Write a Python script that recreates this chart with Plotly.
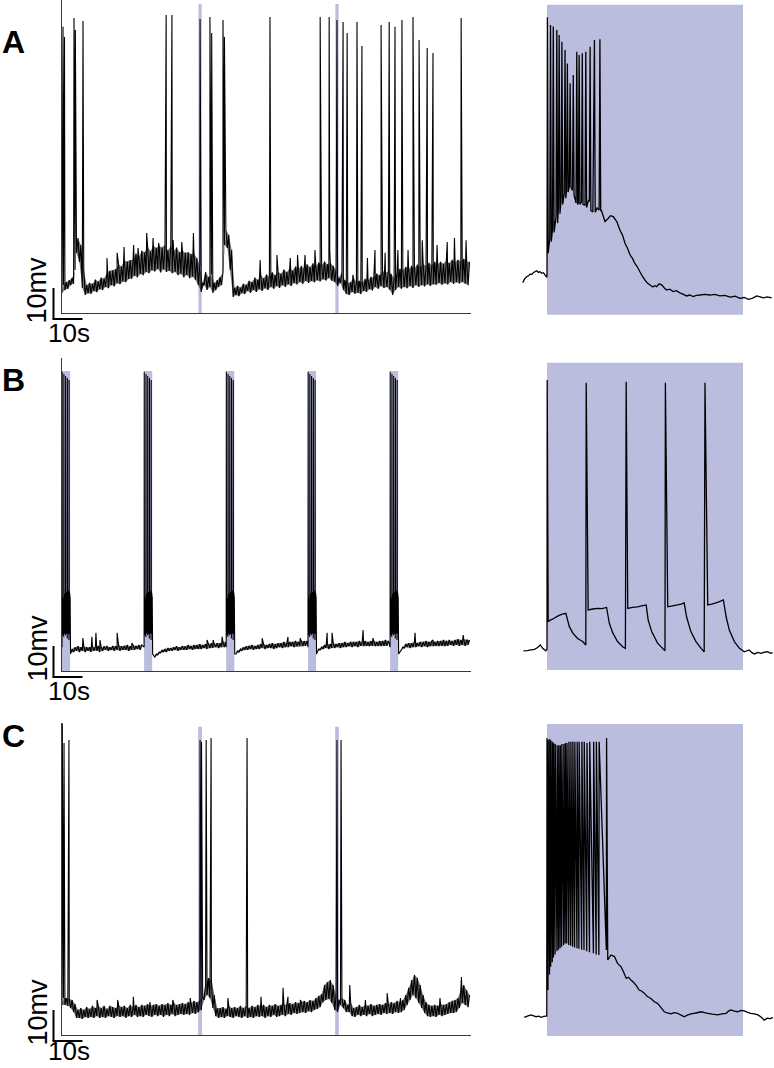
import numpy as np
import plotly.graph_objects as go

W, H = 774, 1068

# ------------------------------------------------------------------
# DATA (time in s, membrane potential in mV)
# ------------------------------------------------------------------
# Panel A, long recording: lower / upper edge of the noisy trace, one sample per second (t = 0..140 s)
A_lo = [-63.5, -62.6, -62.2, -61.0, -60.6, -50.6, -53.5, -61.9, -64.2, -63.6,
        -63.8, -62.9, -63.3, -62.3, -62.6, -61.6, -62.0, -61.0, -61.4, -60.4,
        -60.7, -59.8, -60.1, -59.0, -58.9, -58.0, -58.5, -57.4, -57.8, -56.8,
        -57.2, -56.2, -56.6, -55.8, -56.9, -55.9, -56.8, -56.4, -57.2, -56.8,
        -57.8, -57.3, -58.5, -57.7, -58.8, -58.3, -59.3, -61.0, -63.2, -61.0,
        -62.6, -61.6, -63.5, -62.6, -61.6, -61.0, -48.1, -49.0, -56.1, -64.8,
        -64.2, -64.6, -63.6, -63.9, -62.9, -63.5, -62.6, -63.2, -62.3, -62.9,
        -62.0, -62.6, -61.6, -62.2, -61.3, -61.9, -61.0, -61.6, -60.7, -61.3,
        -60.3, -60.8, -60.0, -60.6, -59.7, -60.3, -59.7, -60.1, -59.4, -59.8,
        -59.1, -59.5, -58.7, -59.6, -60.0, -61.3, -60.3, -62.6, -63.9, -64.2,
        -63.2, -63.8, -63.5, -63.9, -62.9, -63.2, -62.3, -62.7, -61.6, -62.2,
        -61.3, -61.9, -61.6, -62.6, -64.2, -62.6, -61.6, -62.2, -61.6, -62.0,
        -61.3, -61.9, -61.0, -61.6, -61.0, -61.4, -60.7, -61.3, -60.7, -60.9,
        -60.3, -60.9, -60.4, -60.8, -60.0, -60.6, -60.1, -60.5, -60.0, -60.6,
        -61.0]
A_hi = [-61.0, -60.0, -59.4, -58.7, -56.1, -45.8, -48.1, -56.1, -61.0, -60.3,
        -60.6, -59.2, -59.8, -58.6, -58.9, -57.0, -56.4, -56.2, -55.9, -54.3,
        -55.0, -53.1, -53.4, -52.9, -52.8, -50.8, -52.0, -49.9, -50.4, -48.5,
        -50.1, -48.2, -49.0, -48.4, -48.9, -47.9, -49.8, -48.3, -50.1, -48.9,
        -50.4, -49.8, -50.6, -50.4, -51.0, -50.8, -52.3, -54.5, -60.3, -56.8,
        -58.4, -57.7, -60.3, -59.4, -58.4, -56.8, -43.2, -44.8, -49.7, -61.9,
        -61.2, -61.8, -60.6, -60.9, -59.6, -60.0, -58.6, -59.3, -57.7, -58.8,
        -57.6, -58.2, -56.9, -57.8, -56.7, -57.3, -56.0, -56.8, -55.6, -56.3,
        -55.0, -55.9, -54.8, -55.6, -54.3, -55.2, -54.0, -54.9, -53.7, -54.6,
        -53.4, -54.3, -53.8, -54.8, -56.1, -58.7, -56.8, -59.4, -60.3, -60.0,
        -58.7, -60.1, -59.6, -60.2, -59.0, -59.4, -58.3, -58.6, -57.3, -57.8,
        -56.4, -57.0, -56.5, -57.4, -58.7, -57.1, -55.7, -56.2, -55.1, -55.9,
        -54.8, -55.6, -54.4, -55.2, -54.1, -54.9, -53.8, -54.6, -53.5, -54.3,
        -53.5, -54.1, -53.1, -53.9, -52.8, -53.6, -52.8, -53.3, -52.5, -53.4,
        -53.5]
A_spike_t = [0.35, 0.86, 4.14, 4.6, 7.24, 35.9, 37.9, 47.6, 51.0, 51.6, 55.5, 56.0,
             71.7, 89.0, 92.1, 94.8, 96.9, 98.3, 101.7, 103.4, 110.0, 112.8, 114.8,
             117.2, 121.0, 123.1, 125.9, 127.9, 137.6]
A_spike_v = [22.3, 19.0, 25.2, 21.3, 24.2, 26.1, 26.1, 24.8, 25.5, 20.3, 24.5, 19.0,
             25.5, 25.5, 25.5, 24.5, 23.9, 20.3, 23.9, 16.1, 22.9, 23.9, 22.3,
             24.5, 25.5, 18.1, 15.5, 13.9, 25.2]
A_epsp_t = [15.5, 19.0, 21.4, 24.7, 26.2, 29.2, 31.4, 33.3, 38.3, 41.3, 45.3,
            68.3, 74.1, 78.7, 81.2, 83.8, 87.2, 92.3, 100.3, 105.3, 107.9, 111.4,
            115.8, 119.3, 124.2, 129.3, 132.8, 135.3, 139.3]
A_epsp_v = [-52.3, -50.6, -48.7, -48.1, -49.0, -44.2, -45.8, -47.4, -46.5, -47.1, -44.2,
            -52.9, -51.3, -52.3, -51.3, -51.3, -49.7, -49.7, -57.7, -52.3, -49.7, -50.6,
            -49.7, -49.7, -46.5, -48.1, -47.1, -45.8, -46.5]
A_stim_t = [47.6, 94.8]          # brief light pulses (centre, s)

# Panel A, expanded view around one light period (stimulus 0..5 s)
A_right = [(-0.62, -60.2), (-0.57, -59.0), (-0.52, -58.3), (-0.47, -58.0), (-0.43, -57.4),
           (-0.39, -57.6), (-0.35, -57.0), (-0.30, -56.6), (-0.26, -56.4), (-0.22, -56.9),
           (-0.18, -56.7), (-0.13, -57.2), (-0.09, -57.0), (-0.03, -58.1),
           (0.00, -58.5), (0.01, 25.4), (0.03, -50.7), (0.07, -46.0), (0.09, 22.9), (0.11, -47.0),
           (0.14, -43.0), (0.16, 22.4), (0.18, -44.0), (0.23, -39.0), (0.25, 21.3), (0.27, -41.0),
           (0.29, -36.0), (0.31, 19.7), (0.33, -38.0), (0.36, -33.5), (0.38, 17.5), (0.40, -35.0),
           (0.44, -31.5), (0.46, 14.8), (0.48, -33.0), (0.50, -30.5), (0.52, 10.5), (0.54, -31.0),
           (0.57, -29.0), (0.59, 4.1), (0.61, -29.5), (0.65, -30.5), (0.67, 6.8), (0.69, -32.0),
           (0.74, -34.5), (0.76, 14.3), (0.78, -35.0), (0.80, -34.5), (0.82, 13.2), (0.84, -35.0),
           (0.88, -34.2), (0.90, 13.8), (0.92, -35.0), (0.97, -35.2), (0.99, 14.3), (1.01, -36.0),
           (1.06, -33.5), (1.08, -34.0), (1.10, 15.9), (1.12, -37.0), (1.17, -37.4), (1.21, 18.1),
           (1.23, -37.5), (1.28, -36.1), (1.33, -36.8), (1.35, 18.3), (1.37, -37.0),
           (1.39, -37.0), (1.48, -40.5), (1.56, -39.5), (1.62, -38.6), (1.69, -38.9), (1.78, -40.5),
           (1.86, -43.2), (1.93, -45.0), (1.99, -47.5), (2.05, -49.0), (2.12, -51.3), (2.18, -52.4),
           (2.24, -54.0), (2.30, -55.0), (2.37, -56.7), (2.43, -58.0), (2.50, -59.4), (2.56, -60.3),
           (2.63, -61.0), (2.70, -61.6), (2.75, -61.2), (2.80, -61.5), (2.86, -60.6), (2.93, -61.0),
           (3.00, -62.0), (3.05, -62.6), (3.13, -62.3), (3.22, -63.1), (3.30, -62.8), (3.39, -63.5),
           (3.47, -63.9), (3.56, -64.5), (3.64, -64.2), (3.73, -64.7), (3.81, -64.3), (3.90, -64.2),
           (4.03, -64.0), (4.16, -64.2), (4.28, -64.0), (4.41, -64.5), (4.54, -64.3), (4.67, -64.9),
           (4.80, -64.6), (4.92, -65.3), (5.03, -65.0), (5.14, -65.6), (5.25, -65.2), (5.35, -64.5),
           (5.44, -64.8), (5.52, -65.1), (5.62, -64.8), (5.73, -65.1)]

# Panel B, long recording (None = inside a burst)
N = None
B_lo = [N, N, N, -64.2, -63.9, -63.5, -63.9, -63.5, -63.9, -63.5,
        -63.9, -63.5, -63.5, -63.9, -63.5, -63.2, -63.5, -63.2, -63.5, -63.2,
        -63.5, -63.2, -63.2, -63.5, -63.2, -63.2, -62.9, -63.2, N, N,
        N, N, -65.5, -64.8, -64.2, -63.9, -63.9, -63.5, -63.5, -63.2,
        -63.5, -63.2, -63.2, -63.2, -62.9, -63.2, -62.9, -62.9, -62.9, -62.6,
        -62.9, -62.6, -62.6, -62.3, -62.6, -62.3, -62.3, N, N, N,
        -64.5, -63.9, -63.5, -63.2, -63.2, -62.9, -63.2, -62.9, -62.9, -62.6,
        -62.9, -62.6, -62.6, -62.9, -62.6, -62.3, -62.6, -62.3, -62.3, -62.0,
        -62.3, -62.0, -61.9, -62.0, -61.9, N, N, N, -63.9, -63.2,
        -62.9, -62.6, -62.9, -62.6, -62.6, -62.3, -62.6, -62.3, -62.3, -62.0,
        -62.3, -62.0, -62.3, -61.9, -62.0, -61.9, -62.0, -61.9, -62.0, -61.9,
        -62.0, -61.9, -61.9, N, N, N, N, -63.2, -62.6, -62.3,
        -62.6, -62.3, -62.3, -62.0, -62.3, -62.0, -62.3, -62.0, -62.0, -61.9,
        -62.0, -61.9, -62.0, -61.9, -61.6, -61.9, -61.6, -61.9, -61.6, -61.9,
        -61.6]
B_hi = [N, N, N, -62.9, -62.3, -62.0, -62.3, -62.0, -62.3, -62.3,
        -62.0, -62.3, -61.9, -62.3, -62.0, -61.9, -62.3, -61.9, -62.0, -61.6,
        -62.0, -61.9, -61.6, -62.0, -61.6, -61.9, -61.6, -61.6, N, N,
        N, N, -64.5, -63.9, -63.2, -62.9, -62.6, -62.6, -62.3, -62.0,
        -62.3, -61.9, -62.0, -61.6, -61.9, -61.6, -61.6, -61.3, -61.6, -61.3,
        -61.3, -61.0, -61.3, -61.0, -61.0, -60.6, -60.6, N, N, N,
        -63.5, -62.9, -62.3, -62.0, -61.9, -61.6, -61.9, -61.6, -61.3, -61.3,
        -61.6, -61.3, -61.0, -61.3, -61.0, -61.0, -60.6, -61.0, -60.6, -60.6,
        -60.3, -60.6, -60.3, -60.3, -60.3, N, N, N, -62.9, -62.3,
        -61.6, -61.3, -61.3, -61.0, -61.3, -61.0, -61.0, -60.6, -61.0, -60.6,
        -60.6, -60.6, -60.3, -60.6, -60.3, -60.6, -60.3, -60.3, -60.6, -60.3,
        -60.3, -60.0, -60.3, N, N, N, N, -62.3, -61.3, -61.0,
        -61.0, -60.6, -61.0, -60.6, -60.6, -60.3, -60.6, -60.3, -60.6, -60.3,
        -60.3, -60.0, -60.3, -60.0, -60.3, -60.0, -59.7, -60.0, -59.7, -60.0,
        -60.0]
B_epsp_t = [7.2, 10.3, 11.7, 13.1, 19.0, 24.1, 50.0, 52.1, 55.2, 69.0, 77.9, 82.1,
            91.4, 93.1, 103.8, 107.2, 121.7, 127.9, 138.3, 139.8]
B_epsp_v = [-59.4, -59.0, -57.7, -60.0, -57.7, -61.0, -60.0, -60.0, -59.0, -59.4, -59.0, -59.4,
            -57.7, -57.7, -56.8, -59.4, -57.7, -60.0, -58.4, -60.0]
B_burst_start = [0.0, 28.3, 56.6, 84.8, 113.1]
B_burst_len = 2.8
# shape of one burst (time from burst onset, mV): tall spikes plus the dense
# depolarised oscillation between -45 and -60 mV
B_burst_off = [0.00, 0.05, 0.10, 0.16, 0.22, 0.28, 0.34, 0.40, 0.46, 0.52, 0.60, 0.65,
               0.70, 0.76, 0.82, 0.88, 0.94, 1.00, 1.06, 1.12, 1.20, 1.25, 1.30, 1.36,
               1.42, 1.48, 1.54, 1.60, 1.66, 1.72, 1.80, 1.85, 1.90, 1.96, 2.02, 2.08,
               2.14, 2.20, 2.26, 2.32, 2.40, 2.45, 2.50, 2.56, 2.62, 2.68, 2.74, 2.80, 2.95]
B_burst_v = [-62.3, 26.5, -58.0, -46.0, -57.0, -47.5, -58.5, -46.5, -57.5, -48.0, -59.0, 25.8,
             -57.0, -45.5, -56.5, -46.5, -58.0, -45.0, -57.5, -47.0, -58.5, 25.2, -56.0, -45.0,
             -57.0, -46.0, -58.0, -44.5, -57.5, -46.5, -59.5, 24.5, -56.5, -44.5, -57.0, -45.5,
             -58.0, -44.0, -57.5, -46.0, -60.0, 23.9, -56.0, -44.5, -57.5, -45.0, -58.0, -46.0,
             -64.5]

# Panel B, expanded view (stimulus 0..5 s)
B_right = [(-0.60, -63.5), (-0.50, -63.4), (-0.41, -63.2), (-0.32, -63.0), (-0.24, -62.4),
           (-0.17, -61.6), (-0.11, -62.7), (-0.03, -63.5),
           (0.00, -63.0), (0.005, 23.9), (0.03, -54.0), (0.10, -53.5), (0.18, -53.0), (0.26, -52.4),
           (0.34, -51.9), (0.42, -51.6), (0.48, -51.4), (0.57, -55.7), (0.66, -57.8), (0.78, -59.5),
           (0.91, -60.5), (0.99, -61.6),
           (1.00, 23.0), (1.05, -50.3), (1.17, -50.0), (1.29, -49.8), (1.40, -49.9), (1.52, -49.5),
           (1.59, -54.6), (1.68, -57.8), (1.80, -60.5), (1.93, -62.2), (2.00, -62.7),
           (2.02, 23.3), (2.06, -49.8), (2.18, -49.5), (2.31, -49.3), (2.42, -49.0), (2.53, -48.7),
           (2.58, -53.5), (2.67, -57.3), (2.82, -61.0), (2.95, -62.7), (3.01, -63.5),
           (3.02, 23.0), (3.08, -49.3), (3.20, -49.0), (3.33, -48.7), (3.42, -48.4), (3.50, -48.0),
           (3.56, -52.5), (3.67, -57.3), (3.80, -60.5), (3.93, -62.7), (4.01, -63.8),
           (4.03, 23.0), (4.10, -48.7), (4.20, -48.4), (4.31, -48.0), (4.40, -47.6), (4.50, -47.1),
           (4.57, -52.5), (4.65, -56.8), (4.78, -60.5), (4.91, -62.7), (5.03, -63.8),
           (5.16, -63.2), (5.22, -64.0), (5.29, -64.5), (5.38, -64.0), (5.46, -64.3), (5.55, -63.9),
           (5.63, -63.8), (5.70, -64.3), (5.76, -64.1)]

# Panel C, long recording
C_lo = [-60.3, -60.3, -60.6, -61.3, -62.6, -64.5, -64.5, -64.8, -64.2, -64.5,
        -64.2, -64.5, -63.9, -64.5, -64.2, -64.5, -63.9, -64.2, -64.5, -63.9,
        -64.2, -63.9, -64.5, -63.9, -64.2, -63.5, -64.2, -63.9, -64.2, -63.5,
        -63.9, -64.2, -63.5, -63.9, -63.5, -64.2, -63.5, -63.9, -63.2, -63.9,
        -63.5, -63.2, -63.5, -63.2, -63.5, -62.9, -63.2, -62.6, -61.9, -58.7,
        -57.1, -58.1, -61.3, -63.9, -64.5, -64.2, -64.5, -63.9, -64.2, -64.5,
        -63.9, -64.2, -64.5, -63.9, -64.5, -64.2, -64.5, -63.9, -64.2, -63.9,
        -64.5, -63.9, -64.2, -63.5, -64.2, -63.9, -63.5, -63.9, -63.2, -63.5,
        -62.9, -63.2, -62.9, -62.6, -62.9, -62.3, -62.6, -61.9, -61.6, -61.0,
        -59.4, -58.7, -58.4, -59.7, -61.9, -62.6, -60.3, -61.3, -62.6, -62.6,
        -63.9, -64.2, -63.5, -63.9, -63.5, -63.9, -63.2, -63.9, -63.5, -63.2,
        -63.5, -62.9, -63.2, -62.9, -63.2, -62.6, -62.9, -62.6, -61.9, -60.3,
        -58.7, -57.1, -58.1, -59.7, -61.3, -62.9, -63.9, -64.2, -63.9, -64.2,
        -63.5, -63.9, -63.5, -63.2, -62.9, -62.9, -62.6, -61.3, -59.7, -60.3,
        -61.0]
C_hi = [-58.1, -58.1, -58.4, -58.7, -60.0, -61.9, -61.3, -61.9, -61.0, -61.6,
        -60.6, -61.3, -60.6, -61.3, -60.6, -61.6, -60.6, -61.0, -61.3, -60.3,
        -61.0, -60.6, -61.3, -60.3, -61.0, -60.3, -61.0, -60.3, -60.6, -60.0,
        -60.6, -60.3, -60.0, -60.6, -60.0, -60.3, -59.7, -60.3, -59.7, -60.3,
        -60.0, -59.7, -60.0, -59.4, -59.7, -59.0, -59.4, -58.7, -58.1, -53.9,
        -51.6, -52.3, -57.1, -61.3, -61.3, -61.0, -61.6, -60.6, -61.3, -61.0,
        -61.3, -60.6, -61.3, -60.6, -61.3, -60.6, -61.0, -60.3, -60.6, -60.3,
        -61.0, -60.3, -60.6, -60.0, -60.6, -60.3, -60.0, -60.3, -59.7, -60.0,
        -59.4, -59.7, -59.4, -59.0, -59.4, -58.7, -59.0, -58.1, -57.4, -56.8,
        -53.9, -52.9, -52.3, -53.9, -57.1, -58.7, -58.1, -58.7, -60.3, -59.4,
        -61.3, -61.0, -60.3, -61.0, -60.3, -60.6, -60.0, -60.6, -60.3, -60.0,
        -60.3, -59.7, -60.0, -59.4, -59.7, -59.0, -59.4, -58.7, -57.1, -54.8,
        -52.3, -50.6, -51.6, -53.9, -57.1, -59.4, -60.3, -60.6, -60.3, -60.6,
        -60.0, -60.3, -60.0, -59.4, -59.0, -58.7, -58.1, -55.5, -53.9, -55.5,
        -57.1]
C_spike_t = [0.1, 0.7, 2.4, 47.6, 48.1, 49.7, 51.4, 63.8, 94.8, 96.2]
C_spike_v = [30.6, 24.2, 25.2, 25.2, 24.5, 25.2, 25.8, 25.8, 25.2, 25.2]
C_epsp_t = [12.1, 19.2, 24.6, 30.3, 38.2, 44.2, 57.2, 68.6, 76.2, 77.9, 82.2, 99.2,
            104.6, 112.1, 116.7, 130.3, 137.7]
C_epsp_v = [-58.7, -58.7, -57.7, -59.4, -58.7, -58.1, -58.1, -57.7, -54.8, -57.7, -58.7, -53.9,
            -58.7, -56.5, -58.1, -58.1, -51.3]
C_stim_t = [47.6, 94.8]

# Panel C, expanded view (stimulus 0..5 s)
C_right_pre = [(-0.58, -64.3), (-0.50, -63.9), (-0.41, -63.5), (-0.34, -63.8), (-0.28, -64.1),
               (-0.21, -63.9), (-0.15, -64.3), (-0.08, -64.0), (-0.03, -63.9)]
C_spike_rt = [0.00, 0.03, 0.07, 0.10, 0.14, 0.17, 0.21, 0.26, 0.30, 0.34, 0.38, 0.43, 0.47, 0.51,
              0.56, 0.61, 0.66, 0.71, 0.77, 0.82, 0.89, 0.95, 1.02, 1.09, 1.19, 1.26, 1.33, 1.52]
C_spike_rv = [25.8, 25.2, 25.5, 25.0, 24.6, 24.2, 23.9, 23.5, 23.5, 23.5, 23.9, 23.9, 24.2, 24.2,
              24.6, 24.6, 24.6, 24.6, 24.6, 24.6, 24.6, 24.6, 24.2, 24.6, 24.6, 24.6, 24.6, 25.8]
C_trough_rv = [-63.9, -55.5, -50.5, -48.0, -46.5, -45.0, -44.0, -43.0, -42.5, -42.0, -41.5, -41.0,
               -40.5, -40.5, -41.0, -41.2, -41.5, -41.8, -42.0, -42.2, -42.5, -42.6, -43.0, -43.3,
               -43.6, -44.0, -44.2, -42.6]
C_right_post = [(1.55, -45.8), (1.63, -44.2), (1.72, -44.7), (1.80, -46.9), (1.89, -48.0),
                (1.95, -49.6), (2.02, -51.7), (2.08, -51.4), (2.14, -52.3), (2.20, -52.9), (2.27, -53.9),
                (2.35, -55.5), (2.41, -55.8), (2.48, -56.5), (2.56, -57.6), (2.65, -58.2), (2.73, -59.2),
                (2.82, -59.8), (2.90, -61.0), (2.99, -62.5), (3.07, -62.9), (3.16, -63.2), (3.24, -62.8),
                (3.33, -63.0), (3.42, -63.6), (3.50, -64.1), (3.58, -63.6), (3.67, -63.2), (3.80, -62.9),
                (3.93, -62.5), (4.02, -62.8), (4.10, -63.0), (4.22, -63.3), (4.35, -63.5), (4.46, -63.2),
                (4.57, -63.0), (4.63, -62.3), (4.69, -61.9), (4.78, -62.3), (4.86, -62.5), (4.95, -62.1),
                (5.03, -62.2), (5.12, -62.7), (5.20, -63.0), (5.29, -63.2), (5.38, -63.5), (5.46, -64.2),
                (5.54, -65.2), (5.62, -64.6), (5.70, -64.7), (5.76, -64.3)]

STIM_RIGHT = (0.0, 5.0)          # light period in the expanded views (s)
SHADE_V = {"A": (-70.6, 29.4), "B": (-69.7, 29.4), "C": (-70.3, 30.3)}
LEFT_BAR_TOP = {"A": 29.7, "B": 26.8, "C": 29.4}

# ------------------------------------------------------------------
# LAYOUT GEOMETRY
# ------------------------------------------------------------------
PX_PER_MV = 3.1
ROWS = {"A": (0, 313), "B": (358, 671), "C": (723, 1035)}   # top/bottom px of left axes
LEFT_X_PX = (62, 471)
LEFT_T = (0, 141)
RIGHT_X_PX = (515.5, 774)
RIGHT_T0_PX = 547
RIGHT_PX_PER_S = 39.2
V0 = -70.0

BAR_COLOR = "#BBBDDE"
AX_COLOR = "#3a3a3a"
FONT = "Liberation Sans, Arial, sans-serif"


def pxx(px):
    return px / W


def pxy(px):
    return 1 - px / H


def zigzag(lo, hi, ev_t, ev_v):
    ts, vs = [], []
    for i, (l, h) in enumerate(zip(lo, hi)):
        if l is None:
            continue
        ts += [i, i + 0.5]
        vs += [l, h]
    ts += list(ev_t)
    vs += list(ev_v)
    order = np.argsort(np.array(ts), kind="stable")
    return np.array(ts)[order], np.array(vs)[order]


def band_segments(lo, hi):
    """polygons (one per run without gaps) enclosing the noise band"""
    segs, cur = [], []
    for i, (l, h) in enumerate(zip(lo, hi)):
        if l is None:
            if cur:
                segs.append(cur)
            cur = []
            continue
        cur.append((i, l, h))
    if cur:
        segs.append(cur)
    polys = []
    for seg in segs:
        xs = [s[0] + 0.5 for s in seg] + [s[0] for s in reversed(seg)]
        ys = [s[2] for s in seg] + [s[1] for s in reversed(seg)]
        polys.append((xs + [xs[0]], ys + [ys[0]]))
    return polys


fig = go.Figure()
layout = dict(width=W, height=H, margin=dict(l=0, r=0, t=0, b=0),
              paper_bgcolor="white", plot_bgcolor="rgba(0,0,0,0)", showlegend=False)
shapes, annos = [], []

axis_idx = {"A": (1, 2), "B": (3, 4), "C": (5, 6)}
for row, (top, bot) in ROWS.items():
    li, ri = axis_idx[row]
    lname = "" if li == 1 else str(li)
    rname = str(ri)
    layout["xaxis" + lname] = dict(domain=[pxx(LEFT_X_PX[0]), pxx(LEFT_X_PX[1])], range=list(LEFT_T),
                                   showline=True, linecolor=AX_COLOR, linewidth=1, showgrid=False,
                                   zeroline=False, showticklabels=False, ticks="",
                                   anchor="y" + lname, fixedrange=True)
    layout["yaxis" + lname] = dict(domain=[pxy(bot), pxy(top)],
                                   range=[V0, V0 + (bot - top) / PX_PER_MV],
                                   showline=True, linecolor=AX_COLOR, linewidth=1, showgrid=False,
                                   zeroline=False, showticklabels=False, ticks="",
                                   anchor="x" + lname, fixedrange=True)
    rtop = max(top - 3, 0)
    rbot = bot + 8
    layout["xaxis" + rname] = dict(domain=[pxx(RIGHT_X_PX[0]), 1.0],
                                   range=[(RIGHT_X_PX[0] - RIGHT_T0_PX) / RIGHT_PX_PER_S,
                                          (RIGHT_X_PX[1] - RIGHT_T0_PX) / RIGHT_PX_PER_S],
                                   visible=False, anchor="y" + rname, fixedrange=True)
    layout["yaxis" + rname] = dict(domain=[pxy(rbot), pxy(rtop)],
                                   range=[V0 - (rbot - bot) / PX_PER_MV, V0 + (bot - rtop) / PX_PER_MV],
                                   visible=False, anchor="x" + rname, fixedrange=True)
    sv = SHADE_V[row]
    shapes.append(dict(type="rect", xref="x" + rname, yref="y" + rname,
                       x0=STIM_RIGHT[0], x1=STIM_RIGHT[1], y0=sv[0], y1=sv[1],
                       fillcolor=BAR_COLOR, line=dict(width=0), layer="below"))
    # scale bars (10 mV, 10 s)
    px_per_s = (LEFT_X_PX[1] - LEFT_X_PX[0]) / (LEFT_T[1] - LEFT_T[0])
    sb_x = 53.5
    sb_b = bot + 6
    shapes.append(dict(type="line", xref="paper", yref="paper", x0=pxx(sb_x), x1=pxx(sb_x),
                       y0=pxy(sb_b), y1=pxy(sb_b - 10 * PX_PER_MV), line=dict(color="black", width=2)))
    shapes.append(dict(type="line", xref="paper", yref="paper", x0=pxx(sb_x - 1), x1=pxx(sb_x + 10 * px_per_s),
                       y0=pxy(sb_b), y1=pxy(sb_b), line=dict(color="black", width=2)))
    annos.append(dict(text="10mv", xref="paper", yref="paper", x=pxx(37), y=pxy(sb_b + 7),
                      xanchor="center", yanchor="bottom", textangle=-90, showarrow=False,
                      font=dict(family=FONT, size=27, color="black")))
    if sb_b - 3 + 32 > H:
        # keep the bottom label fully inside the page
        annos.append(dict(text="10s", xref="paper", yref="paper", x=pxx(69), y=pxy(H - 0.5),
                          xanchor="center", yanchor="bottom", showarrow=False,
                          font=dict(family=FONT, size=26, color="black")))
    else:
        annos.append(dict(text="10s", xref="paper", yref="paper", x=pxx(69), y=pxy(sb_b - 3),
                          xanchor="center", yanchor="top", showarrow=False,
                          font=dict(family=FONT, size=26, color="black")))

for tc in A_stim_t:
    shapes.append(dict(type="rect", xref="x", yref="y", x0=tc - 0.55, x1=tc + 0.55, y0=V0,
                       y1=LEFT_BAR_TOP["A"], fillcolor=BAR_COLOR, line=dict(width=0), layer="below"))
for ts0 in B_burst_start:
    shapes.append(dict(type="rect", xref="x3", yref="y3", x0=ts0, x1=ts0 + B_burst_len, y0=V0,
                       y1=LEFT_BAR_TOP["B"], fillcolor=BAR_COLOR, line=dict(width=0), layer="below"))
for tc in C_stim_t:
    shapes.append(dict(type="rect", xref="x5", yref="y5", x0=tc - 0.65, x1=tc + 0.65, y0=V0,
                       y1=LEFT_BAR_TOP["C"], fillcolor=BAR_COLOR, line=dict(width=0), layer="below"))

for letter, ycen in (("A", 42), ("B", 380), ("C", 736)):
    annos.append(dict(text="<b>%s</b>" % letter, xref="paper", yref="paper", x=pxx(13), y=pxy(ycen),
                      xanchor="center", yanchor="middle", showarrow=False,
                      font=dict(family=FONT, size=32, color="black")))

line_l = dict(color="black", width=1.1, simplify=False)
line_r = dict(color="black", width=1.3, simplify=False)

# noise bands (filled envelope) under the traces
for lo, hi, xa, ya in ((A_lo, A_hi, "x", "y"), (B_lo, B_hi, "x3", "y3"), (C_lo, C_hi, "x5", "y5")):
    for xs, ys in band_segments(lo, hi):
        fig.add_trace(go.Scatter(x=xs, y=ys, mode="lines", fill="toself",
                                 fillcolor="rgba(0,0,0,0.55)", line=dict(width=0),
                                 xaxis=xa, yaxis=ya, hoverinfo="skip"))

t, v = zigzag(A_lo, A_hi, A_spike_t + A_epsp_t, A_spike_v + A_epsp_v)
fig.add_trace(go.Scatter(x=t, y=v, mode="lines", line=line_l, xaxis="x", yaxis="y", hoverinfo="skip"))
fig.add_trace(go.Scatter(x=[p[0] for p in A_right], y=[p[1] for p in A_right], mode="lines",
                         line=line_r, xaxis="x2", yaxis="y2", hoverinfo="skip"))
bt, bv = [], []
for s in B_burst_start:
    bt += [s + o for o in B_burst_off]
    bv += list(B_burst_v)
t, v = zigzag(B_lo, B_hi, B_epsp_t + bt, B_epsp_v + bv)
fig.add_trace(go.Scatter(x=t, y=v, mode="lines", line=line_l, xaxis="x3", yaxis="y3", hoverinfo="skip"))
fig.add_trace(go.Scatter(x=[p[0] for p in B_right], y=[p[1] for p in B_right], mode="lines",
                         line=line_r, xaxis="x4", yaxis="y4", hoverinfo="skip"))
t, v = zigzag(C_lo, C_hi, C_spike_t + C_epsp_t, C_spike_v + C_epsp_v)
fig.add_trace(go.Scatter(x=t, y=v, mode="lines", line=line_l, xaxis="x5", yaxis="y5", hoverinfo="skip"))
pts = list(C_right_pre)
for ts_, pk, tr in zip(C_spike_rt, C_spike_rv, C_trough_rv):
    pts.append((ts_ - 0.006, tr))
    pts.append((ts_, pk))
pts += C_right_post
fig.add_trace(go.Scatter(x=[p[0] for p in pts], y=[p[1] for p in pts], mode="lines",
                         line=line_r, xaxis="x6", yaxis="y6", hoverinfo="skip"))

layout["shapes"] = shapes
layout["annotations"] = annos
fig.update_layout(**layout)
fig.write_html("out.html", config={"displayModeBar": False},
               post_script="document.body.style.margin='0';document.body.style.padding='0';"
                           "document.documentElement.style.overflow='hidden';")
